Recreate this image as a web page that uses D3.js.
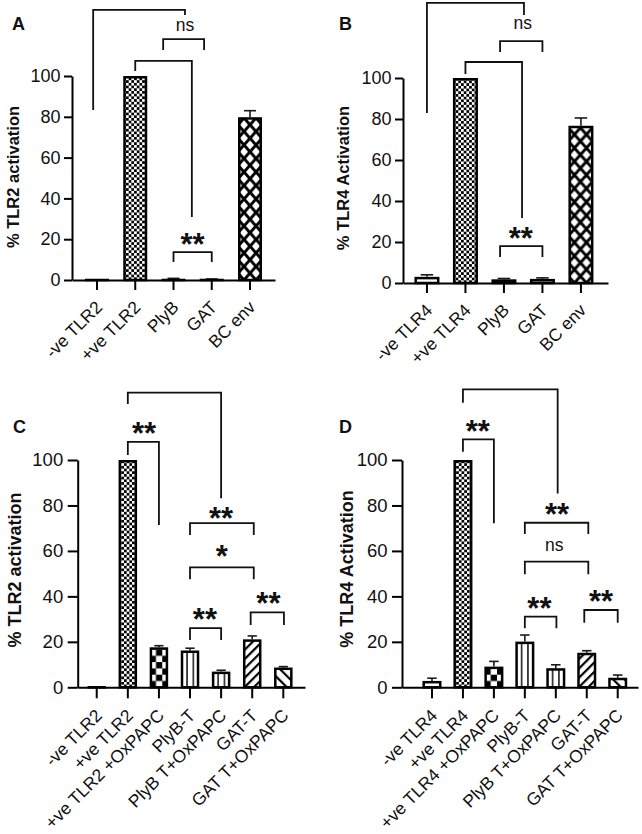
<!DOCTYPE html>
<html><head><meta charset="utf-8">
<script src="https://cdn.jsdelivr.net/npm/d3@7"></script>
<style>
body{margin:0;background:#fff}
svg{display:block}
text{font-family:"Liberation Sans",Arial,Helvetica,sans-serif}
</style>
</head><body>
<svg id="chart" width="642" height="834"></svg>
<script>
// ---------- data ----------
const catsA = ["-ve TLR2","+ve TLR2","PlyB","GAT","BC env"];
const valsA = [0.3, 100, 0.6, 0.4, 79.8];
const errA  = [0, 0, 0.2, 0.1, 3.2];

const catsB = ["-ve TLR4","+ve TLR4","PlyB","GAT","BC env"];
const valsB = [3.0, 100, 1.8, 2.0, 76.7];
const errB  = [1.0, 0, 0.4, 0.5, 3.8];

const catsC = ["-ve TLR2","+ve TLR2","+ve TLR2 +OxPAPC","PlyB-T","PlyB T+OxPAPC","GAT-T","GAT T+OxPAPC"];
const valsC = [0.3, 100, 17.6, 16.2, 6.9, 21.1, 8.7];
const errC  = [0, 0, 0.7, 1.0, 0.6, 1.5, 0.4];

const catsD = ["-ve TLR4","+ve TLR4","+ve TLR4 +OxPAPC","PlyB-T","PlyB T+OxPAPC","GAT-T","GAT T+OxPAPC"];
const valsD = [2.8, 100, 9.1, 20.1, 8.4, 15.2, 4.2];
const errD  = [1.2, 0, 2.3, 2.9, 1.5, 0.9, 1.2];

const yTicks = [0, 20, 40, 60, 80, 100];

// significance brackets: [fromIndex, toIndex, topValue, leftEndValue, rightEndValue]
const bracketsA = [[-0.1, 2.3, 132.4, 83.3, 129.9], [1.73, 2.8, 118.1, 112.7, 112.7], [1, 2.48, 107.4, 102.5, 30.9], [2, 3, 13.7, 8.8, 8.8]];
const sigLabelsA = [[2.3, 124.5, "ns"], [2.5, 20.6, "**"]];
const bracketsB = [[0, 2.52, 136.6, 82.9, 130.7], [1.9, 3.0, 118, 112.7, 112.7], [1, 2.47, 107.8, 102, 31.7], [1.9, 3.0, 18, 12.7, 12.7]];
const sigLabelsB = [[2.49, 125.9, "ns"], [2.44, 24.9, "**"]];
const bracketsC = [[1, 4, 129.6, 124.6, 83.2], [1, 2, 108, 102.2, 71.4], [3, 5.05, 72.2, 67, 67], [3, 5.05, 52.8, 47.5, 47.5], [3, 4, 26, 20.8, 20.8], [4.95, 6.02, 33, 27.4, 27.4]];
const sigLabelsC = [[1.52, 114.6, "**"], [4, 77.3, "**"], [4.02, 60.4, "*"], [3.48, 32.8, "**"], [5.52, 39.9, "**"]];
const bracketsD = [[1, 4.06, 131.1, 125.2, 85.3], [1, 2, 109.1, 103.6, 72.2], [3, 5.05, 72.4, 67.4, 67.4], [3, 5.05, 55.3, 49.7, 49.7], [3, 4.02, 31.1, 26, 26], [4.92, 6, 34, 28.4, 28.4]];
const sigLabelsD = [[1.48, 115.4, "**"], [4.04, 79, "**"], [3.95, 61.9, "ns"], [3.47, 37.7, "**"], [5.46, 40.9, "**"]];

// ---------- styles / layout ----------
const patsAB = ["plain", "checkFine", "plain", "plain", "lattice"];
const patsCD = ["plain", "checkFine", "checkBig", "vlines", "vlines", "diagR", "diagL"];

const layouts = {
  A: {x0:72, x1:275, pi:0.373, po:0.34, align:0.5, y0:280, y100:76, letter:"A", lx:12, ly:30,
      title:"% TLR2 activation", tx:19, ty:177, tfs:16.5, yfs:18, xfs:17.5, ytl:8, ypad:3.5, xtl:10, lbx:2, lby:24},
  B: {x0:403, x1:608, pi:0.35, po:0.3375, align:0.44, y0:283, y100:78, letter:"B", lx:339, ly:30,
      title:"% TLR4 Activation", tx:349, ty:178, tfs:16.5, yfs:18, xfs:17.5, ytl:8, ypad:3.5, xtl:10, lbx:2, lby:24},
  C: {x0:77.7, x1:305, pi:0.405, po:0.357, align:0.44, y0:687.3, y100:460, letter:"C", lx:13, ly:433,
      title:"% TLR2 activation", tx:20.5, ty:570, tfs:18, yfs:18.5, xfs:17.5, ytl:10, ypad:4.5, xtl:11, lbx:2, lby:25},
  D: {x0:402, x1:638, pi:0.386, po:0.505, align:0.655, y0:687.3, y100:460, letter:"D", lx:339, ly:433,
      title:"% TLR4 Activation", tx:352.5, ty:569, tfs:18, yfs:18.5, xfs:17.5, ytl:10, ypad:4.5, xtl:11, lbx:2, lby:25}
};

const FONT = '"Liberation Sans",Arial,Helvetica,sans-serif';
const svg = d3.select("#chart");
const defs = svg.append("defs");

function makePattern(id, type, bx, by) {
  const p = defs.append("pattern").attr("id", id).attr("patternUnits", "userSpaceOnUse");
  if (type === "plain") {
    p.attr("width", 4).attr("height", 4);
    p.append("rect").attr("width", 4).attr("height", 4).attr("fill", "#fff");
  } else if (type === "checkFine" || type === "checkBig") {
    const s = type === "checkFine" ? 2.7 : 6.3;
    p.attr("width", 2 * s).attr("height", 2 * s).attr("patternTransform", `translate(${bx},${by})`);
    p.append("rect").attr("width", 2 * s).attr("height", 2 * s).attr("fill", "#fff");
    p.append("rect").attr("x", 0).attr("y", s).attr("width", s).attr("height", s).attr("fill", "#000");
    p.append("rect").attr("x", s).attr("y", 0).attr("width", s).attr("height", s).attr("fill", "#000");
  } else if (type === "vlines") {
    const w = 6.3;
    p.attr("width", w).attr("height", 10).attr("patternTransform", `translate(${bx},${by})`);
    p.append("rect").attr("width", w).attr("height", 10).attr("fill", "#fff");
    p.append("rect").attr("x", -0.7).attr("width", 1.4).attr("height", 10).attr("fill", "#000");
    p.append("rect").attr("x", w - 0.7).attr("width", 1.4).attr("height", 10).attr("fill", "#000");
  } else if (type === "diagR" || type === "diagL") {
    const w = type === "diagR" ? 6.6 : 8;
    const ang = type === "diagR" ? 45 : -45;
    p.attr("width", w).attr("height", w).attr("patternTransform", `translate(${bx},${by}) rotate(${ang})`);
    p.append("rect").attr("width", w).attr("height", w).attr("fill", "#fff");
    p.append("rect").attr("x", 0).attr("width", 2.2).attr("height", w).attr("fill", "#000");
  } else if (type === "lattice") {
    const w = 12, h = 13.5, hw = 4.0, hh = 4.6;
    p.attr("width", w).attr("height", h).attr("patternTransform", `translate(${bx},${by})`);
    p.append("rect").attr("width", w).attr("height", h).attr("fill", "#000");
    const centers = [[0,0],[w,0],[0,h],[w,h],[w/2,h/2]];
    centers.forEach(([cx, cy]) => {
      p.append("path").attr("d", `M${cx-hw},${cy}L${cx},${cy-hh}L${cx+hw},${cy}L${cx},${cy+hh}Z`).attr("fill", "#fff");
    });
  }
}

function drawPanel(key, L, cats, vals, errs, pats, brackets, sigLabels) {
  const x = d3.scaleBand().domain(cats).range([L.x0, L.x1])
    .paddingInner(L.pi).paddingOuter(L.po).align(L.align);
  const y = d3.scaleLinear().domain([0, 100]).range([L.y0, L.y100]);
  const bw = x.bandwidth(), sw = 2.5;
  const xi = i => x(cats[0]) + bw / 2 + i * x.step();
  const g = svg.append("g");

  // error bars (upper only)
  const eg = g.append("g").attr("stroke", "#1a1a1a").attr("stroke-width", 1.6).attr("fill", "none");
  cats.forEach((c, i) => {
    if (errs[i] > 0) {
      const cx = x(c) + bw / 2, yt = y(vals[i] + errs[i]);
      eg.append("line").attr("x1", cx).attr("x2", cx).attr("y1", y(vals[i])).attr("y2", yt);
      eg.append("line").attr("x1", cx - bw * 0.25).attr("x2", cx + bw * 0.25).attr("y1", yt).attr("y2", yt);
    }
  });

  // bars
  cats.forEach((c, i) => makePattern(`pat-${key}-${i}`, pats[i], x(c), y(0)));
  g.append("g").selectAll("rect").data(cats).join("rect")
    .attr("x", c => x(c) + sw / 2)
    .attr("width", bw - sw)
    .attr("y", (c, i) => Math.min(y(vals[i]) + sw / 2, y(0) - 0.01))
    .attr("height", (c, i) => Math.max(0.01, y(0) - y(vals[i]) - sw / 2))
    .attr("fill", (c, i) => `url(#pat-${key}-${i})`)
    .attr("stroke", "#000").attr("stroke-width", sw);

  // y axis
  const yg = g.append("g").attr("transform", `translate(${L.x0},0)`)
    .call(d3.axisLeft(y).tickValues(yTicks).tickSize(L.ytl).tickSizeOuter(0).tickPadding(L.ypad));
  yg.select(".domain").attr("stroke", "#000").attr("stroke-width", 2);
  yg.selectAll(".tick line").attr("stroke", "#000").attr("stroke-width", 2);
  yg.selectAll("text").attr("font-size", L.yfs).attr("fill", "#111").style("font-family", FONT);

  // x axis
  const xg = g.append("g").attr("transform", `translate(0,${L.y0})`)
    .call(d3.axisBottom(x).tickSize(L.xtl).tickSizeOuter(0));
  xg.select(".domain").attr("stroke", "#000").attr("stroke-width", 2);
  xg.selectAll(".tick line").attr("stroke", "#000").attr("stroke-width", 2);
  xg.selectAll("text").attr("font-size", L.xfs).attr("fill", "#111").style("font-family", FONT)
    .attr("x", 0).attr("y", 0).attr("dy", "0.35em")
    .attr("text-anchor", "end")
    .attr("transform", `translate(${L.lbx},${L.lby}) rotate(-45)`);

  // axis title
  g.append("text").attr("transform", `translate(${L.tx},${L.ty}) rotate(-90)`)
    .attr("text-anchor", "middle").attr("font-weight", "bold").attr("font-size", L.tfs)
    .attr("fill", "#111").text(L.title);

  // panel letter
  g.append("text").attr("x", L.lx).attr("y", L.ly).attr("font-weight", "bold")
    .attr("font-size", 18).attr("fill", "#111").text(L.letter);

  // significance brackets
  const bg = g.append("g").attr("stroke", "#111").attr("stroke-width", 1.8).attr("fill", "none");
  brackets.forEach(([a, b, top, le, re]) => {
    bg.append("path").attr("d", `M${xi(a)},${y(le)}V${y(top)}H${xi(b)}V${y(re)}`);
  });
  sigLabels.forEach(([i, v, t]) => {
    const star = t.indexOf("*") >= 0;
    const fs = star ? 31 : 17.5;
    g.append("text").attr("x", xi(i)).attr("y", y(v) + (star ? 0.56 * fs : 0.26 * fs))
      .attr("text-anchor", "middle").attr("font-size", fs)
      .attr("font-weight", star ? "bold" : "normal").attr("fill", "#111").text(t);
  });
}

drawPanel("A", layouts.A, catsA, valsA, errA, patsAB, bracketsA, sigLabelsA);
drawPanel("B", layouts.B, catsB, valsB, errB, patsAB, bracketsB, sigLabelsB);
drawPanel("C", layouts.C, catsC, valsC, errC, patsCD, bracketsC, sigLabelsC);
drawPanel("D", layouts.D, catsD, valsD, errD, patsCD, bracketsD, sigLabelsD);
</script>
</body></html>
